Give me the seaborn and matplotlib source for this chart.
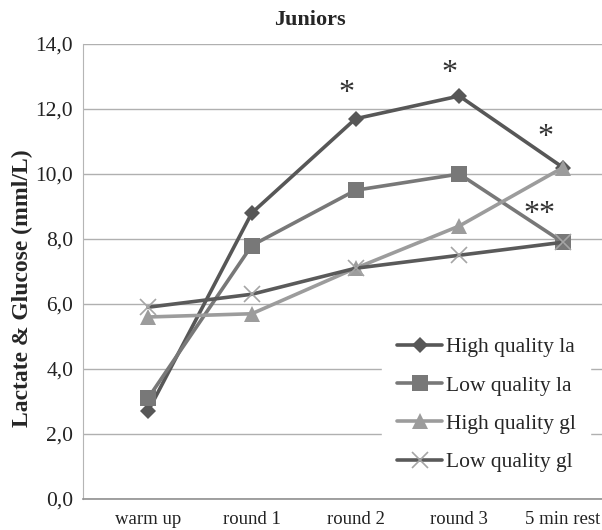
import pandas as pd
import matplotlib
matplotlib.use('Agg')
import matplotlib.pyplot as plt
import seaborn as sns

stages = ['warm up', 'round 1', 'round 2', 'round 3', '5 min rest']
high_la = [2.7, 8.8, 11.7, 12.4, 10.2]
low_la = [3.1, 7.8, 9.5, 10.0, 7.9]
high_gl = [5.6, 5.7, 7.1, 8.4, 10.2]
low_gl = [5.9, 6.3, 7.1, 7.5, 7.9]
series_names = ['High quality la', 'Low quality la', 'High quality gl', 'Low quality gl']

# significance marks: (x position, y value, text)
stars_x = [1.91, 2.91, 3.83, 3.77]
stars_y = [12.47, 13.08, 11.11, 8.74]
stars_txt = ['*', '*', '*', '**']

rows = []
for name, vals in zip(series_names, [high_la, low_la, high_gl, low_gl]):
    for i, v in enumerate(vals):
        rows.append({'stage': i, 'value': v, 'series': name})
df = pd.DataFrame(rows)

sns.set_style('white')
plt.rcParams['font.family'] = ['Liberation Serif', 'DejaVu Serif']

fig = plt.figure(figsize=(6.02, 5.30), dpi=100)
ax = fig.add_axes([83 / 602, 1 - 499 / 530, 1 - 83 / 602, (499 - 44) / 530])

palette = {'High quality la': '#575757', 'Low quality la': '#787878',
           'High quality gl': '#9c9c9c', 'Low quality gl': '#5a5a5a'}
markers = {'High quality la': 'D', 'Low quality la': 's',
           'High quality gl': '^', 'Low quality gl': 'x'}
sizes = {'High quality la': 8.5, 'Low quality la': 11,
         'High quality gl': 11, 'Low quality gl': 11}

for name in series_names:
    sub = df[df['series'] == name]
    is_x = name == 'Low quality gl'
    sns.lineplot(data=sub, x='stage', y='value', ax=ax, color=palette[name],
                 marker=markers[name], markersize=sizes[name], linewidth=2.6,
                 markeredgewidth=1.2 if is_x else 0,
                 markeredgecolor='#a5a5a5' if is_x else palette[name],
                 label=name)

for x, y, t in zip(stars_x, stars_y, stars_txt):
    ax.text(x, y, t, fontsize=23, ha='center', va='center', color='#333333')

ax.set_xlim(-0.627, 4.376)
ax.set_ylim(0, 14)
ax.set_yticks([0, 2, 4, 6, 8, 10, 12, 14])
ax.set_yticklabels(['0,0', '2,0', '4,0', '6,0', '8,0', '10,0', '12,0', '14,0'], fontsize=15.5)
ax.set_xticks(range(len(stages)))
ax.set_xticklabels(stages, fontsize=13.5)
ax.tick_params(axis='y', length=0, pad=7, colors='#222222')
ax.tick_params(axis='x', length=0, pad=9, colors='#222222')
ax.grid(axis='y', color='#b0b0b0', linewidth=1)
ax.set_axisbelow(True)
for s in ['top', 'right']:
    ax.spines[s].set_visible(False)
ax.spines['left'].set_color('#b5b5b5')
ax.spines['bottom'].set_color('#909090')
ax.spines['bottom'].set_linewidth(1.2)
ax.set_xlabel('')
ax.set_ylabel('')

leg = ax.legend(loc='upper left', bbox_to_anchor=(382 / 602, 1 - 322 / 530),
                bbox_transform=fig.transFigure, frameon=True, borderaxespad=0,
                fontsize=15.5, handlelength=2.1, handletextpad=0.15, labelspacing=0.85,
                borderpad=0.7)
leg.get_frame().set_facecolor('white')
leg.get_frame().set_edgecolor('white')
leg.get_frame().set_alpha(1)

fig.text(310 / 602, 1 - 20 / 530, 'Juniors', fontsize=16, fontweight='bold',
         ha='center', va='center')
fig.text(22 / 602, 1 - 288 / 530, 'Lactate & Glucose (mml/L)', fontsize=17,
         fontweight='bold', rotation=90, ha='center', va='center')

fig.savefig('out.png', dpi=100)
